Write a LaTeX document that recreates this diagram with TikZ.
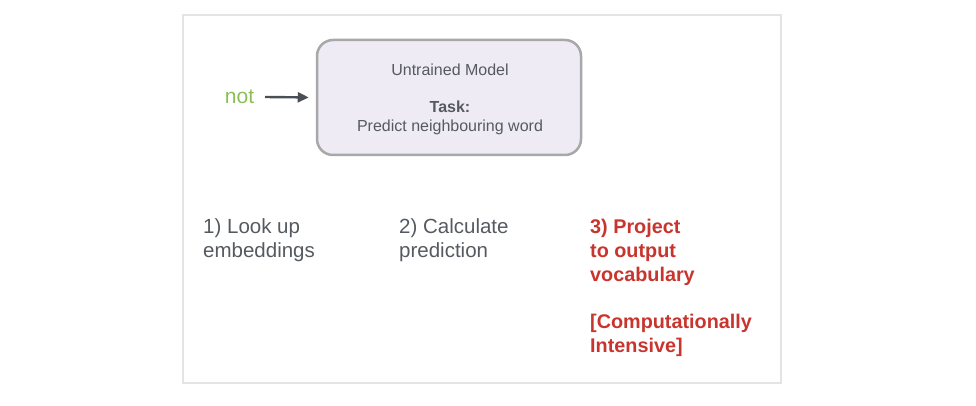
\documentclass[tikz,border=0pt]{standalone}
\usepackage{fontspec}
\setmainfont{Liberation Sans}
\usetikzlibrary{arrows.meta}
\definecolor{framegray}{HTML}{E4E4E4}
\definecolor{boxfill}{HTML}{EEEBF5}
\definecolor{boxdraw}{HTML}{A8A8A8}
\definecolor{txtgray}{HTML}{555A60}
\definecolor{arrowgray}{HTML}{4A4F55}
\definecolor{notgreen}{HTML}{8BBF56}
\definecolor{redtxt}{HTML}{C8352E}
\tikzset{
  steptext/.style={anchor=north west, align=left, inner sep=0pt, font=\fontsize{20.5}{23.5}\selectfont, text=txtgray},
  redtext/.style={anchor=north west, align=left, inner sep=0pt, font=\fontsize{19.8}{23.8}\selectfont\bfseries, text=redtxt},
  boxtext/.style={inner sep=0pt, font=\fontsize{16}{19}\selectfont, text=txtgray}
}
\begin{document}
\begin{tikzpicture}[x=1pt,y=-1pt]
\useasboundingbox (0,0) rectangle (976,406);
\draw[framegray, line width=1.2pt] (183,15) rectangle (781,383);
\node[draw=boxdraw, fill=boxfill, line width=2.5pt, rounded corners=16pt, minimum width=264pt, minimum height=115pt, inner sep=0pt] (model) at (449,97.5) {};
\node[boxtext] (title) at (450,70) {Untrained Model};
\node[boxtext, font=\fontsize{16}{19}\selectfont\bfseries] (task) at (450,107) {Task:};
\node[boxtext] (pred) at (450,127) {Predict neighbouring word};
\node[inner sep=0pt, font=\fontsize{21}{24}\selectfont, text=notgreen] (not) at (239.5,97) {not};
\coordinate (arrstart) at (265,97);
\draw[arrowgray, line width=2.4pt, -{Triangle[length=11pt,width=10pt]}, shorten >=7pt] (arrstart) -- (model.west);
\node[steptext] (s1) at (203,218.5) {1) Look up\\embeddings};
\node[steptext] (s2) at (399,218.5) {2) Calculate\\prediction};
\node[redtext] (s3) at (590,219) {3) Project\\to output\\vocabulary\\[\baselineskip][Computationally\\Intensive]};
\end{tikzpicture}
\end{document}
